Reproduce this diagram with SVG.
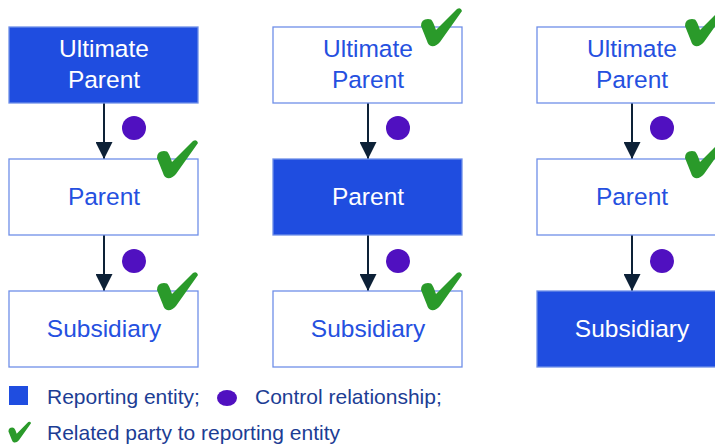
<svg xmlns="http://www.w3.org/2000/svg" width="715" height="447" viewBox="0 0 715 447">
<defs>
<style>
.box{fill:#ffffff;stroke:#6f8fe8;stroke-width:1.3}
.rep{fill:#1f4de0;stroke:#6f8fe8;stroke-width:1.3}
.t{font-family:"Liberation Sans",Arial,sans-serif;font-size:24.5px;fill:#2550e0;text-anchor:middle}
.tw{font-family:"Liberation Sans",Arial,sans-serif;font-size:24.5px;fill:#ffffff;text-anchor:middle}
.lg{font-family:"Liberation Sans",Arial,sans-serif;font-size:21px;fill:#1c3d94}
.dot{fill:#5010c0}
.edge{stroke:#0d2137;stroke-width:2;fill:none}
.chk{fill:#2a9a2a}
</style>
<marker id="ah" viewBox="0 0 10 10" refX="10" refY="5" markerUnits="userSpaceOnUse" markerWidth="17" markerHeight="17" orient="auto">
<path d="M0,0 L10,5 L0,10 Z" fill="#0d2137"/>
</marker>
<path id="check" class="chk" d="M-41,-1 Q-41,-8 -34,-8 L-31,-7.5 Q-29,-6 -26,3 L-5,-18 Q-1,-20 0,-16 L-22,15 Q-26,20 -31,19 Q-34,18 -35,14 Z"/>
</defs>

<g id="connectors">
<line class="edge" x1="104" y1="103" x2="104" y2="159" marker-end="url(#ah)"/>
<line class="edge" x1="104" y1="235" x2="104" y2="291" marker-end="url(#ah)"/>
<line class="edge" x1="368" y1="103" x2="368" y2="159" marker-end="url(#ah)"/>
<line class="edge" x1="368" y1="235" x2="368" y2="291" marker-end="url(#ah)"/>
<line class="edge" x1="632" y1="103" x2="632" y2="159" marker-end="url(#ah)"/>
<line class="edge" x1="632" y1="235" x2="632" y2="291" marker-end="url(#ah)"/>
<circle class="dot" cx="134" cy="128" r="12"/>
<circle class="dot" cx="134" cy="261" r="12"/>
<circle class="dot" cx="398" cy="128" r="12"/>
<circle class="dot" cx="398" cy="261" r="12"/>
<circle class="dot" cx="662" cy="128" r="12"/>
<circle class="dot" cx="662" cy="261" r="12"/>
</g>

<g id="c1-ultimate">
<rect class="rep" x="9" y="27" width="189" height="76"/>
<text class="tw" x="104" y="57">Ultimate</text>
<text class="tw" x="104" y="88">Parent</text>
</g>
<g id="c1-parent">
<rect class="box" x="9" y="159" width="189" height="76"/>
<text class="t" x="104" y="205">Parent</text>
<use href="#check" x="198" y="159"/>
</g>
<g id="c1-subsidiary">
<rect class="box" x="9" y="291" width="189" height="76"/>
<text class="t" x="104" y="337">Subsidiary</text>
<use href="#check" x="198" y="291"/>
</g>

<g id="c2-ultimate">
<rect class="box" x="273" y="27" width="189" height="76"/>
<text class="t" x="368" y="57">Ultimate</text>
<text class="t" x="368" y="88">Parent</text>
<use href="#check" x="462" y="27"/>
</g>
<g id="c2-parent">
<rect class="rep" x="273" y="159" width="189" height="76"/>
<text class="tw" x="368" y="205">Parent</text>
</g>
<g id="c2-subsidiary">
<rect class="box" x="273" y="291" width="189" height="76"/>
<text class="t" x="368" y="337">Subsidiary</text>
<use href="#check" x="462" y="291"/>
</g>

<g id="c3-ultimate">
<rect class="box" x="537" y="27" width="189" height="76"/>
<text class="t" x="632" y="57">Ultimate</text>
<text class="t" x="632" y="88">Parent</text>
<use href="#check" x="726" y="27"/>
</g>
<g id="c3-parent">
<rect class="box" x="537" y="159" width="189" height="76"/>
<text class="t" x="632" y="205">Parent</text>
<use href="#check" x="726" y="159"/>
</g>
<g id="c3-subsidiary">
<rect class="rep" x="537" y="291" width="189" height="76"/>
<text class="tw" x="632" y="337">Subsidiary</text>
</g>

<g id="legend">
<rect x="9" y="386" width="19" height="19" fill="#1f4de0"/>
<text class="lg" x="47" y="404">Reporting entity;</text>
<ellipse class="dot" cx="227" cy="398" rx="10" ry="8"/>
<text class="lg" x="255" y="404">Control relationship;</text>
<use href="#check" transform="translate(31,432) scale(0.55)"/>
<text class="lg" x="47" y="440">Related party to reporting entity</text>
</g>
</svg>
